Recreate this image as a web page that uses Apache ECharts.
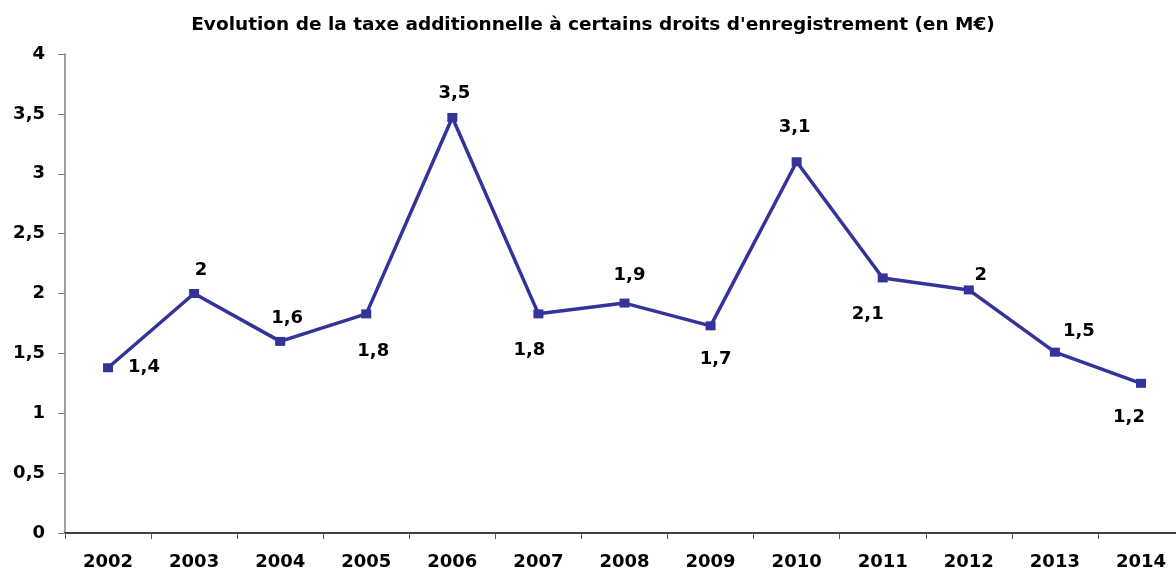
<!DOCTYPE html>
<html>
<head>
<meta charset="utf-8">
<script src="https://cdn.jsdelivr.net/npm/echarts@6/dist/echarts.min.js"></script>
<style>
  html, body { margin: 0; padding: 0; background: #fff; }
  #main { width: 1176px; height: 572px; }
</style>
</head>
<body>
<div id="main"></div>
<script>
// données
var years = ['2002', '2003', '2004', '2005', '2006', '2007', '2008', '2009', '2010', '2011', '2012', '2013', '2014'];
var values = [1.38, 2.0, 1.6, 1.83, 3.47, 1.83, 1.92, 1.73, 3.1, 2.13, 2.03, 1.51, 1.25];
var valueLabels = ['1,4', '2', '1,6', '1,8', '3,5', '1,8', '1,9', '1,7', '3,1', '2,1', '2', '1,5', '1,2'];

// placement des étiquettes autour des points
var labelOffsets = [[36, 0], [7, -23], [7, -23], [7, 37], [2, -24], [-9, 36], [5, -28],
  [5, 33], [-2, -34], [-15, 36], [12, -15], [24, -21], [-12, 34]];

var font = 'DejaVu Sans';
var myChart = echarts.init(document.getElementById('main'));

myChart.setOption({
  animation: false,
  title: {
    text: "Evolution de la taxe additionnelle à certains droits d'enregistrement (en M€)",
    left: 588,
    textAlign: 'center',
    top: 11,
    textStyle: {
      fontFamily: font,
      fontWeight: 'bold',
      fontSize: 18.5,
      color: '#000'
    }
  },
  grid: {
    left: 65,
    top: 54,
    width: 1119,
    height: 479,
    outerBoundsMode: 'none'
  },
  xAxis: {
    type: 'category',
    data: years,
    boundaryGap: true,
    axisLine: { lineStyle: { color: '#000', width: 1.5 } },
    axisTick: { show: true, length: 6, interval: 0, lineStyle: { color: '#555' } },
    axisLabel: {
      margin: 20,
      interval: 0,
      fontFamily: font,
      fontWeight: 'bold',
      fontSize: 18,
      color: '#000'
    },
    splitLine: { show: false }
  },
  yAxis: {
    type: 'value',
    min: 0,
    max: 4,
    interval: 0.5,
    axisLine: { show: true, lineStyle: { color: '#808080', width: 1.5 } },
    axisTick: { show: true, length: 7, lineStyle: { color: '#808080' } },
    axisLabel: {
      margin: 20,
      fontFamily: font,
      fontWeight: 'bold',
      fontSize: 18,
      color: '#000',
      formatter: function (v) { return String(v).replace('.', ','); }
    },
    splitLine: { show: false }
  },
  series: [{
    type: 'line',
    data: values.map(function (v, i) {
      return {
        value: v,
        label: {
          show: true,
          position: 'inside',
          offset: labelOffsets[i],
          formatter: valueLabels[i]
        }
      };
    }),
    symbol: 'rect',
    symbolSize: [10, 9],
    itemStyle: { color: '#333399' },
    lineStyle: { color: '#333399', width: 3.5 },
    label: {
      fontFamily: font,
      fontWeight: 'bold',
      fontSize: 18,
      color: '#000'
    }
  }]
});
</script>
</body>
</html>
